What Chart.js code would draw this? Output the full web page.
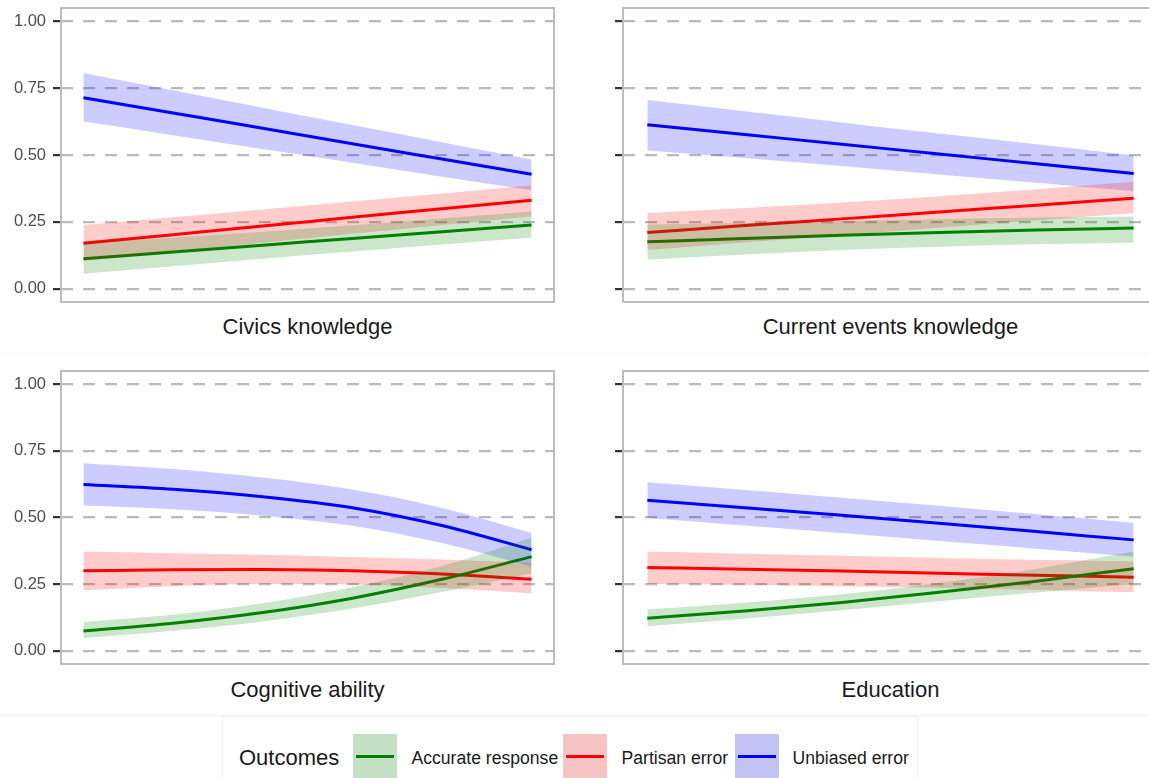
<!DOCTYPE html>
<html><head><meta charset="utf-8">
<script src="https://cdn.jsdelivr.net/npm/chart.js@4"></script>
<style>
html,body{margin:0;padding:0;background:#fff;overflow:hidden;width:1149px;height:778px;}
#wrap{position:relative;width:1149px;height:778px;overflow:hidden;font-family:"Liberation Sans",Arial,sans-serif;}
canvas{position:absolute;}
.strip{position:absolute;font-size:22px;line-height:22px;color:#1a1a1a;white-space:nowrap;transform:translateX(-50%);}
.faint{position:absolute;background:#f1f1f1;}
.legbox{position:absolute;left:222px;top:716px;width:696px;height:70px;border:1px solid #f1f1f1;box-sizing:border-box;}
.legtitle{position:absolute;font-size:22px;line-height:22px;color:#1a1a1a;white-space:nowrap;}
.leglab{position:absolute;font-size:17.6px;line-height:18px;color:#1a1a1a;white-space:nowrap;}
.key{position:absolute;width:44px;height:44px;}
.key i{position:absolute;left:3px;right:3px;top:21px;height:3px;}
</style></head>
<body><div id="wrap"></div>
<script>
const xs = [0, 0.2, 0.4, 0.6, 0.8, 1.0];
const yTicks = [0, 0.25, 0.5, 0.75, 1.0];
const yTickLabels = ['0.00', '0.25', '0.50', '0.75', '1.00'];
const panelTitles = ['Civics knowledge', 'Current events knowledge', 'Cognitive ability', 'Education'];
const outcomes = ['Accurate response', 'Partisan error', 'Unbiased error'];
const legendTitle = 'Outcomes';

// Civics knowledge
const civAcc   = [0.112, 0.137, 0.162, 0.188, 0.213, 0.238];
const civAccLo = [0.056, 0.084, 0.112, 0.139, 0.165, 0.190];
const civAccHi = [0.170, 0.191, 0.213, 0.237, 0.263, 0.290];
const civPar   = [0.170, 0.202, 0.234, 0.267, 0.299, 0.331];
const civParLo = [0.103, 0.138, 0.172, 0.205, 0.238, 0.270];
const civParHi = [0.238, 0.267, 0.296, 0.326, 0.356, 0.387];
const civUnb   = [0.714, 0.657, 0.600, 0.542, 0.485, 0.428];
const civUnbLo = [0.625, 0.574, 0.522, 0.471, 0.419, 0.368];
const civUnbHi = [0.807, 0.742, 0.677, 0.612, 0.548, 0.483];

// Current events knowledge
const curAcc   = [0.175, 0.188, 0.200, 0.210, 0.219, 0.227];
const curAccLo = [0.108, 0.128, 0.145, 0.157, 0.166, 0.172];
const curAccHi = [0.240, 0.246, 0.253, 0.260, 0.266, 0.270];
const curPar   = [0.210, 0.236, 0.261, 0.287, 0.312, 0.338];
const curParLo = [0.145, 0.173, 0.200, 0.228, 0.255, 0.282];
const curParHi = [0.283, 0.302, 0.322, 0.346, 0.372, 0.400];
const curUnb   = [0.613, 0.577, 0.540, 0.504, 0.467, 0.431];
const curUnbLo = [0.517, 0.489, 0.459, 0.427, 0.396, 0.364];
const curUnbHi = [0.706, 0.664, 0.622, 0.580, 0.540, 0.498];

// Cognitive ability
const cogAcc   = [0.074, 0.103, 0.143, 0.197, 0.268, 0.353];
const cogAccLo = [0.048, 0.075, 0.110, 0.158, 0.220, 0.290];
const cogAccHi = [0.108, 0.135, 0.178, 0.238, 0.318, 0.424];
const cogPar   = [0.300, 0.304, 0.305, 0.300, 0.288, 0.268];
const cogParLo = [0.227, 0.242, 0.250, 0.248, 0.235, 0.216];
const cogParHi = [0.372, 0.366, 0.360, 0.352, 0.342, 0.330];
const cogUnb   = [0.624, 0.606, 0.578, 0.537, 0.470, 0.379];
const cogUnbLo = [0.545, 0.531, 0.507, 0.469, 0.404, 0.316];
const cogUnbHi = [0.704, 0.682, 0.650, 0.605, 0.536, 0.442];

// Education
const eduAcc   = [0.122, 0.149, 0.181, 0.219, 0.261, 0.308];
const eduAccLo = [0.092, 0.120, 0.152, 0.186, 0.218, 0.250];
const eduAccHi = [0.155, 0.180, 0.212, 0.254, 0.308, 0.373];
const eduPar   = [0.312, 0.306, 0.299, 0.291, 0.283, 0.276];
const eduParLo = [0.250, 0.247, 0.242, 0.236, 0.228, 0.219];
const eduParHi = [0.372, 0.364, 0.356, 0.348, 0.341, 0.335];
const eduUnb   = [0.565, 0.537, 0.508, 0.478, 0.447, 0.416];
const eduUnbLo = [0.498, 0.470, 0.442, 0.412, 0.383, 0.353];
const eduUnbHi = [0.632, 0.603, 0.574, 0.544, 0.512, 0.480];

const lineColors = ['#008000', '#ff0000', '#0000ff'];
const bandColors = ['rgba(0,128,0,0.2)', 'rgba(255,0,0,0.2)', 'rgba(0,0,255,0.2)'];
const keyColors  = ['#c4e0c4', '#f5c4c4', '#c4c4f4'];

const panels = [
  {title: panelTitles[0], mean: [civAcc, civPar, civUnb], lo: [civAccLo, civParLo, civUnbLo], hi: [civAccHi, civParHi, civUnbHi],
   left: 0, top: 0, w: 562, h: 312, pad: {top: 8, right: 8, bottom: 10, left: 0}, labels: true},
  {title: panelTitles[1], mean: [curAcc, curPar, curUnb], lo: [curAccLo, curParLo, curUnbLo], hi: [curAccHi, curParHi, curUnbHi],
   left: 562, top: 0, w: 610, h: 312, pad: {top: 8, right: 14, bottom: 10, left: 0}, labels: false},
  {title: panelTitles[2], mean: [cogAcc, cogPar, cogUnb], lo: [cogAccLo, cogParLo, cogUnbLo], hi: [cogAccHi, cogParHi, cogUnbHi],
   left: 0, top: 363, w: 562, h: 312, pad: {top: 8, right: 8, bottom: 11, left: 0}, labels: true},
  {title: panelTitles[3], mean: [eduAcc, eduPar, eduUnb], lo: [eduAccLo, eduParLo, eduUnbLo], hi: [eduAccHi, eduParHi, eduUnbHi],
   left: 562, top: 363, w: 610, h: 312, pad: {top: 8, right: 14, bottom: 11, left: 0}, labels: false}
];

const wrap = document.getElementById('wrap');

// faint separators
[[0, 353, 1149, 1], [0, 715, 1149, 1]].forEach(r => {
  const d = document.createElement('div'); d.className = 'faint';
  d.style.left = r[0] + 'px'; d.style.top = r[1] + 'px'; d.style.width = r[2] + 'px'; d.style.height = r[3] + 'px';
  wrap.appendChild(d);
});

const borderPlugin = {
  id: 'panelBorder',
  afterDraw(chart) {
    const a = chart.chartArea, ctx = chart.ctx;
    ctx.save();
    ctx.strokeStyle = '#bdbdbd';
    ctx.lineWidth = 2;
    ctx.strokeRect(a.left, a.top, a.right - a.left, a.bottom - a.top);
    ctx.restore();
  }
};

function pts(arr) { return arr.map((v, i) => ({x: xs[i], y: v})); }

panels.forEach(p => {
  const c = document.createElement('canvas');
  c.width = p.w; c.height = p.h;
  c.style.left = p.left + 'px'; c.style.top = p.top + 'px';
  c.style.width = p.w + 'px'; c.style.height = p.h + 'px';
  wrap.appendChild(c);

  const ds = [];
  for (let k = 0; k < 3; k++) {
    ds.push({label: outcomes[k], data: pts(p.mean[k]), borderColor: lineColors[k], borderWidth: 3,
      pointRadius: 0, fill: false, cubicInterpolationMode: 'monotone', order: 3});
  }
  for (let k = 0; k < 3; k++) {
    const hiIdx = ds.length;
    ds.push({label: outcomes[k] + ' hi', data: pts(p.hi[k]), borderWidth: 0, borderColor: 'rgba(0,0,0,0)',
      backgroundColor: bandColors[k], pointRadius: 0, fill: hiIdx + 1, cubicInterpolationMode: 'monotone', order: 1});
    ds.push({label: outcomes[k] + ' lo', data: pts(p.lo[k]), borderWidth: 0, borderColor: 'rgba(0,0,0,0)',
      pointRadius: 0, fill: false, cubicInterpolationMode: 'monotone', order: 1});
  }

  new Chart(c, {
    type: 'line',
    data: {datasets: ds},
    options: {
      responsive: false, animation: false, devicePixelRatio: 1,
      layout: {padding: p.pad},
      plugins: {legend: {display: false}, tooltip: {enabled: false}},
      scales: {
        x: {type: 'linear', min: -0.05, max: 1.05, display: false},
        y: {
          type: 'linear', min: -0.05, max: 1.05,
          afterBuildTicks: s => { s.ticks = yTicks.map(v => ({value: v})); },
          afterFit: s => { s.width = 61; s.paddingTop = 0; s.paddingBottom = 0; },
          ticks: {
            callback: v => p.labels ? yTickLabels[yTicks.indexOf(v)] : '',
            color: '#4d4d4d', font: {family: 'Liberation Sans', size: 16.5}, padding: 7
          },
          grid: {color: '#bababa', lineWidth: 2.2, tickLength: 8, tickColor: '#333333', tickWidth: 2.2, tickBorderDash: [], drawTicks: true},
          border: {display: false, dash: [12, 10]}
        }
      }
    },
    plugins: [borderPlugin]
  });

  const t = document.createElement('div');
  t.className = 'strip';
  t.textContent = p.title;
  const cx = p.left === 0 ? 307.5 : 890.5;
  t.style.left = cx + 'px';
  t.style.top = (p.top === 0 ? 315.5 : 678.5) + 'px';
  wrap.appendChild(t);
});

// legend
const lb = document.createElement('div'); lb.className = 'legbox'; wrap.appendChild(lb);
const lt = document.createElement('div'); lt.className = 'legtitle'; lt.textContent = legendTitle;
lt.style.left = '239px'; lt.style.top = '746.5px'; wrap.appendChild(lt);
const keyLefts = [353, 563, 735];
const labLefts = [411.5, 621.5, 792.5];
outcomes.forEach((o, k) => {
  const kd = document.createElement('div'); kd.className = 'key';
  kd.style.left = keyLefts[k] + 'px'; kd.style.top = '734px'; kd.style.background = keyColors[k];
  const li = document.createElement('i'); li.style.background = lineColors[k]; kd.appendChild(li);
  wrap.appendChild(kd);
  const ld = document.createElement('div'); ld.className = 'leglab'; ld.textContent = o;
  ld.style.left = labLefts[k] + 'px'; ld.style.top = '748.5px';
  wrap.appendChild(ld);
});
</script>
</body></html>
